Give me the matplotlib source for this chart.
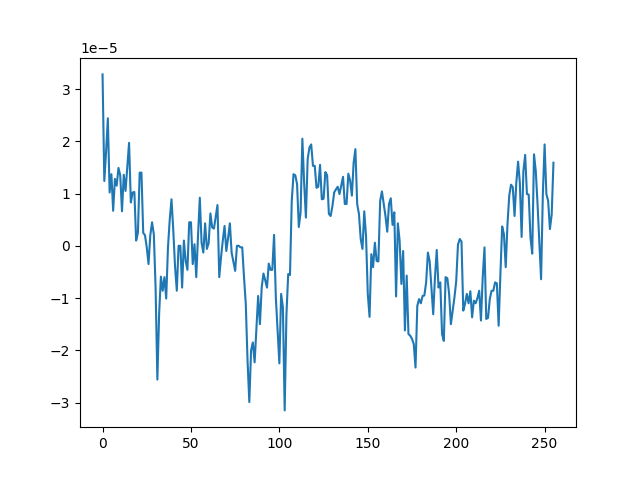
import numpy as np
import matplotlib
matplotlib.use("Agg")
import matplotlib.pyplot as plt

# signal values in units of 1e-5
signal = [
    3.28, 1.24, 1.8, 2.44, 1.02, 1.37, 0.67, 1.28, 1.15, 1.49,
    1.35, 0.66, 1.36, 1.05, 1.5, 1.97, 0.83, 1.02, 1.03, 0.1,
    0.25, 1.4, 1.4, 0.25, 0.2, -0.03, -0.35, 0.2, 0.45, 0.22,
    -0.8, -2.56, -1.3, -0.59, -0.86, -0.6, -1.01, -0.03, 0.5, 0.89,
    0.3, -0.4, -0.86, 0.0, 0.0, -0.8, 0.1, -0.29, -0.46, 0.45,
    0.45, -0.35, 0.03, -0.6, 0.2, 0.92, 0.06, -0.13, 0.43, -0.06,
    0.05, 0.62, 0.35, 0.33, 0.55, 0.78, -0.6, -0.22, 0.1, 0.38,
    -0.1, 0.15, 0.43, -0.13, -0.3, -0.48, 0.0, 0.0, -0.03, -0.03,
    -0.6, -1.11, -2.2, -2.99, -2.0, -1.85, -2.23, -1.6, -0.96, -1.5,
    -0.8, -0.53, -0.66, -0.8, -0.34, -0.46, -0.46, 0.21, -0.99, -1.62,
    -2.25, -0.92, -1.18, -3.15, -1.31, -0.54, -0.56, 0.86, 1.37, 1.35,
    1.18, 0.36, 0.64, 2.05, 1.21, 0.54, 1.66, 1.88, 1.94, 1.53,
    1.53, 1.11, 1.13, 1.55, 0.89, 0.9, 1.41, 1.35, 0.61, 0.57,
    0.76, 1.02, 1.08, 1.13, 0.99, 1.15, 1.32, 0.8, 0.8, 1.38,
    1.25, 0.96, 1.59, 1.85, 0.8, 0.61, 0.13, -0.06, 0.66, 0.19,
    -0.92, -1.36, -0.16, -0.41, 0.06, -0.29, -0.3, 0.86, 1.04, 0.8,
    0.57, 0.27, 0.8, 0.91, 0.4, 0.64, -0.97, 0.43, 0.1, -0.73,
    -0.1, -1.62, -0.57, -1.69, -1.72, -1.78, -1.88, -2.33, -1.15, -1.02,
    -1.1, -0.96, -0.95, -0.7, -0.13, -0.3, -0.8, -1.31, -0.6, -0.08,
    -0.8, -0.7, -1.69, -1.82, -0.6, -0.62, -0.92, -1.5, -1.24, -0.99,
    -0.68, 0.02, 0.13, 0.08, -1.24, -1.11, -0.92, -1.1, -0.87, -1.37,
    -1.05, -1.1, -1.0, -0.86, -1.43, -0.6, -0.03, -1.4, -1.38, -1.02,
    -0.86, -0.86, -0.7, -0.72, -1.53, -0.54, 0.37, 0.22, -0.41, 0.41,
    0.96, 1.17, 1.12, 0.57, 1.21, 1.61, 1.2, 0.17, 1.43, 1.74,
    0.99, 0.98, 0.16, -0.15, 1.75, 1.43, 0.8, 0.1, -0.64, 0.99,
    1.94, 0.99, 0.86, 0.32, 0.6, 1.59,
]

values = np.array(signal) * 1e-5

fig, ax = plt.subplots(figsize=(6.4, 4.8), dpi=100)
ax.plot(values)
fig.savefig("out.png")
